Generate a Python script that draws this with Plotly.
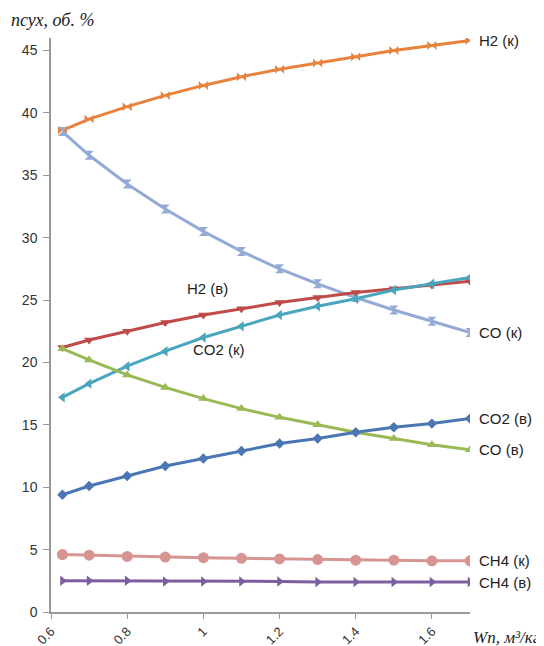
import plotly.graph_objects as go

wn = [0.63, 0.7, 0.8, 0.9, 1.0, 1.1, 1.2, 1.3, 1.4, 1.5, 1.6, 1.7]

h2_k = [38.6, 39.5, 40.5, 41.4, 42.2, 42.9, 43.5, 44.0, 44.5, 45.0, 45.4, 45.8]
co_k = [38.5, 36.6, 34.3, 32.3, 30.5, 28.9, 27.5, 26.3, 25.2, 24.2, 23.3, 22.4]
h2_v = [21.2, 21.8, 22.5, 23.2, 23.8, 24.3, 24.8, 25.2, 25.6, 25.9, 26.2, 26.5]
co2_k = [17.2, 18.3, 19.7, 20.9, 22.0, 22.9, 23.8, 24.5, 25.1, 25.8, 26.3, 26.8]
co_v = [21.1, 20.2, 19.0, 18.0, 17.1, 16.3, 15.6, 15.0, 14.4, 13.9, 13.4, 13.0]
co2_v = [9.4, 10.1, 10.9, 11.7, 12.3, 12.9, 13.5, 13.9, 14.4, 14.8, 15.1, 15.5]
ch4_k = [4.6, 4.55, 4.45, 4.4, 4.35, 4.3, 4.25, 4.2, 4.15, 4.15, 4.1, 4.1]
ch4_v = [2.5, 2.5, 2.5, 2.45, 2.45, 2.45, 2.45, 2.4, 2.4, 2.4, 2.4, 2.4]

series = [
    ("H2 (к)", h2_k, "#E8823D", "bowtie"),
    ("CO (к)", co_k, "#93AAD6", "hourglass"),
    ("H2 (в)", h2_v, "#BE4B48", "triangle-down"),
    ("CO2 (к)", co2_k, "#4AA6BE", "triangle-left"),
    ("CO (в)", co_v, "#98B954", "triangle-up"),
    ("CO2 (в)", co2_v, "#4A76B4", "diamond"),
    ("CH4 (к)", ch4_k, "#D69592", "circle"),
    ("CH4 (в)", ch4_v, "#7D5FA0", "triangle-right"),
]

fig = go.Figure()
for name, ys, color, sym in series:
    size = 11 if sym == "circle" else (8 if sym == "diamond" else 9)
    fig.add_trace(go.Scatter(
        x=wn, y=ys, mode="lines+markers", name=name,
        line=dict(color=color, width=3),
        marker=dict(symbol=sym, size=size, color=color),
        showlegend=False,
    ))

label_font = dict(family="Liberation Sans, Arial, sans-serif", size=15, color="#222")
end_labels = [("H2 (к)", h2_k[-1]), ("CO (к)", co_k[-1]), ("CO2 (в)", co2_v[-1]),
              ("CO (в)", co_v[-1]), ("CH4 (к)", ch4_k[-1]), ("CH4 (в)", ch4_v[-1])]
for txt, yv in end_labels:
    fig.add_annotation(x=wn[-1], y=yv, text=txt, showarrow=False, xanchor="left",
                       xshift=7, font=label_font)
fig.add_annotation(x=1.01, y=25.9, text="H2 (в)", showarrow=False, xanchor="center", font=label_font)
fig.add_annotation(x=1.04, y=21.0, text="CO2 (к)", showarrow=False, xanchor="center", font=label_font)

fig.add_annotation(x=0, y=1, xref="paper", yref="paper", xanchor="left", yanchor="middle",
                   xshift=-42, yshift=18, text="<i>псух, об. %</i>", showarrow=False,
                   font=dict(family="Liberation Serif, Times New Roman, serif", size=18, color="#222"))
fig.add_annotation(x=1, y=0, xref="paper", yref="paper", xanchor="left", yanchor="middle",
                   xshift=1, yshift=-25, text="<i>Wn, м³/кг</i>", showarrow=False,
                   font=dict(family="Liberation Serif, Times New Roman, serif", size=17, color="#222"))

# page body has an 8px margin, so the figure is 8px smaller and margins reduced accordingly
fig.update_layout(
    width=536, height=638,
    margin=dict(l=43, r=74, t=30, b=34),
    plot_bgcolor="white", paper_bgcolor="white",
    font=dict(family="Liberation Sans, Arial, sans-serif", size=14, color="#333"),
)
fig.update_xaxes(range=[0.6, 1.7], tickvals=[0.6, 0.8, 1.0, 1.2, 1.4, 1.6],
                 ticktext=["0.6", "0.8", "1", "1.2", "1.4", "1.6"], tickangle=-45,
                 tickfont=dict(size=13),
                 showgrid=False, zeroline=False, showline=True, linecolor="#999", linewidth=1.5,
                 ticks="outside", ticklen=5, tickcolor="#999", automargin=False)
fig.update_yaxes(range=[0, 46], tickvals=[0, 5, 10, 15, 20, 25, 30, 35, 40, 45],
                 ticklabelstandoff=3,
                 showgrid=False, zeroline=False, showline=True, linecolor="#999", linewidth=1.5,
                 ticks="outside", ticklen=6, tickcolor="#999", automargin=False)

fig.write_html("out.html")
